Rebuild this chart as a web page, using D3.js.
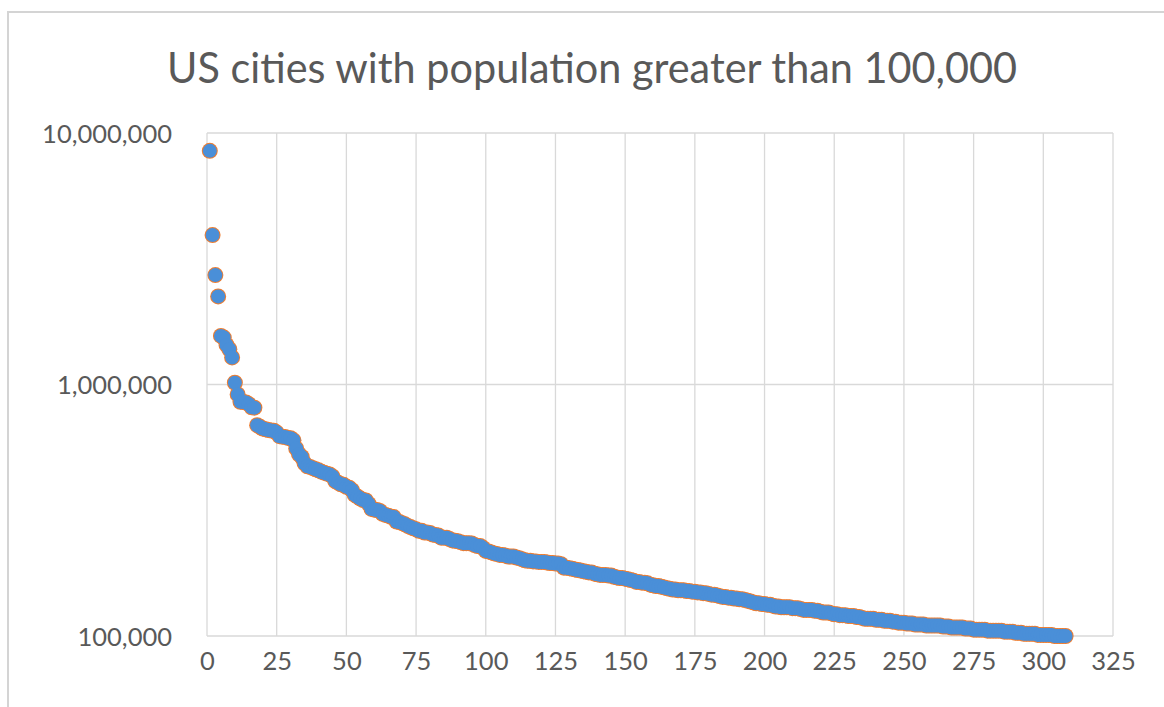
<!DOCTYPE html>
<html>
<head>
<meta charset="utf-8">
<script src="https://cdn.jsdelivr.net/npm/d3@7"></script>
<style>
  body { margin: 0; background: #fff; }
  #chart { width: 1164px; height: 707px; }
  .tick text { fill: #595959; font-family: Lato, "Open Sans", sans-serif; }
</style>
</head>
<body>
<div id="chart"></div>
<script>

// population of each city in thousands, ranked largest to smallest
const populations = [
    8491, 3929, 2723, 2240, 1560, 1537, 1437, 1381, 1281, 1016,
    913, 853, 852, 848, 835, 812, 809, 689, 679, 668,
    664, 659, 656, 655, 644, 623, 620, 619, 613, 612,
    600, 557, 528, 515, 486, 473, 470, 465, 460, 456,
    450, 446, 442, 439, 431, 413, 407, 401, 399, 392,
    389, 380, 364, 358, 352, 347, 346, 335, 320, 318,
    317, 314, 306, 303, 301, 298, 297, 285, 284, 281,
    278, 274, 271, 268, 266, 262, 262, 258, 258, 257,
    253, 252, 251, 246, 246, 246, 243, 240, 239, 238,
    236, 234, 234, 234, 233, 230, 228, 228, 224, 218,
    217, 215, 213, 212, 210, 210, 209, 207, 207, 207,
    205, 204, 202, 200, 199, 199, 198, 198, 197, 197,
    197, 196, 195, 195, 194, 194, 193, 187, 187, 186,
    185, 184, 183, 182, 181, 180, 179, 179, 177, 176,
    175, 175, 175, 174, 174, 172, 171, 170, 170, 169,
    168, 167, 166, 164, 164, 163, 163, 162, 160, 159,
    158, 158, 157, 156, 155, 154, 153, 153, 152, 152,
    152, 151, 151, 150, 150, 149, 149, 148, 148, 147,
    146, 146, 145, 144, 143, 143, 142, 142, 141, 141,
    140, 140, 139, 138, 137, 136, 135, 135, 134, 134,
    133, 133, 132, 131, 131, 130, 130, 130, 130, 129,
    129, 129, 128, 127, 127, 127, 127, 126, 126, 125,
    124, 124, 124, 123, 122, 122, 121, 121, 121, 120,
    120, 120, 119, 119, 118, 117, 117, 117, 117, 116,
    116, 116, 115, 115, 115, 114, 114, 113, 113, 113,
    112, 112, 112, 111, 111, 111, 111, 110, 110, 110,
    110, 110, 110, 109, 109, 109, 108, 108, 108, 108,
    108, 107, 107, 107, 106, 106, 106, 106, 106, 105,
    105, 105, 105, 105, 105, 104, 104, 104, 104, 103,
    103, 103, 102, 102, 102, 102, 102, 101, 101, 101,
    101, 101, 101, 100, 100, 100, 100, 100
];

const xTicks = [0, 25, 50, 75, 100, 125, 150, 175, 200, 225, 250, 275, 300, 325];
const yTicks = [100000, 1000000, 10000000];

const title = "US cities with population greater than 100,000";

const cities = populations.map(function(p, i) {
    return { rank: i + 1, pop: p * 1000 };
});


//1. SVG CANVAS

const width = 1164;
const height = 707;

const svg = d3.select("#chart")
    .append("svg")
    .attr("width", width)
    .attr("height", height);

// faint outer chart frame (top and left edges are visible)
svg.append("path")
    .attr("d", `M8,${height} L8,12 L${width},12`)
    .attr("fill", "none")
    .attr("stroke", "#d4d4d4")
    .attr("stroke-width", 2);


//2. SCALES

const margin = { top: 133, left: 207, right: 51, bottom: 71 };

const xScale = d3.scaleLinear()
    .domain([0, 325])
    .range([margin.left, width - margin.right]);

const yScale = d3.scaleLog()
    .domain([100000, 10000000])
    .range([height - margin.bottom, margin.top]);


//3. GRIDLINES

svg.append("g")
    .selectAll("line")
    .data(xTicks)
    .enter()
    .append("line")
        .attr("x1", d => xScale(d))
        .attr("x2", d => xScale(d))
        .attr("y1", yScale(10000000))
        .attr("y2", yScale(100000))
        .attr("stroke", "#d9d9d9")
        .attr("stroke-width", 1.3);

svg.append("g")
    .selectAll("line")
    .data(yTicks)
    .enter()
    .append("line")
        .attr("x1", xScale(0))
        .attr("x2", xScale(325))
        .attr("y1", d => yScale(d))
        .attr("y2", d => yScale(d))
        .attr("stroke", "#d9d9d9")
        .attr("stroke-width", 1.3);


//4. AXES

const xAxis = svg.append("g")
    .attr("transform", `translate(0,${height - margin.bottom})`)
    .call(d3.axisBottom(xScale).tickValues(xTicks).tickSize(0).tickPadding(34));

const yAxis = svg.append("g")
    .attr("transform", `translate(${margin.left},0)`)
    .call(d3.axisLeft(yScale).tickValues(yTicks).tickSize(0).tickPadding(35)
        .tickFormat(d3.format(",")));

svg.selectAll(".domain").remove();
svg.selectAll(".tick text").attr("font-size", 25.5);
xAxis.selectAll(".tick text").attr("dy", 0);
yAxis.selectAll(".tick text").attr("dy", "0.36em");


//5. POINTS
// orange outlines underneath, blue fills on top, so overlapping
// markers merge into one band with an orange edge

svg.append("g")
    .selectAll("circle")
    .data(cities)
    .enter()
    .append("circle")
        .attr("cx", d => xScale(d.rank))
        .attr("cy", d => yScale(d.pop))
        .attr("r", 8)
        .attr("fill", "#ed7d31");

svg.append("g")
    .selectAll("circle")
    .data(cities)
    .enter()
    .append("circle")
        .attr("cx", d => xScale(d.rank))
        .attr("cy", d => yScale(d.pop))
        .attr("r", 7)
        .attr("fill", "#4a8fd8");


//6. TITLE

svg.append("text")
    .attr("x", 592)
    .attr("y", 83)
    .attr("text-anchor", "middle")
    .attr("font-family", "Lato, 'Open Sans', sans-serif")
    .attr("font-size", 42)
    .attr("fill", "#595959")
    .attr("textLength", 850)
    .attr("lengthAdjust", "spacingAndGlyphs")
    .text(title);

</script>
</body>
</html>
